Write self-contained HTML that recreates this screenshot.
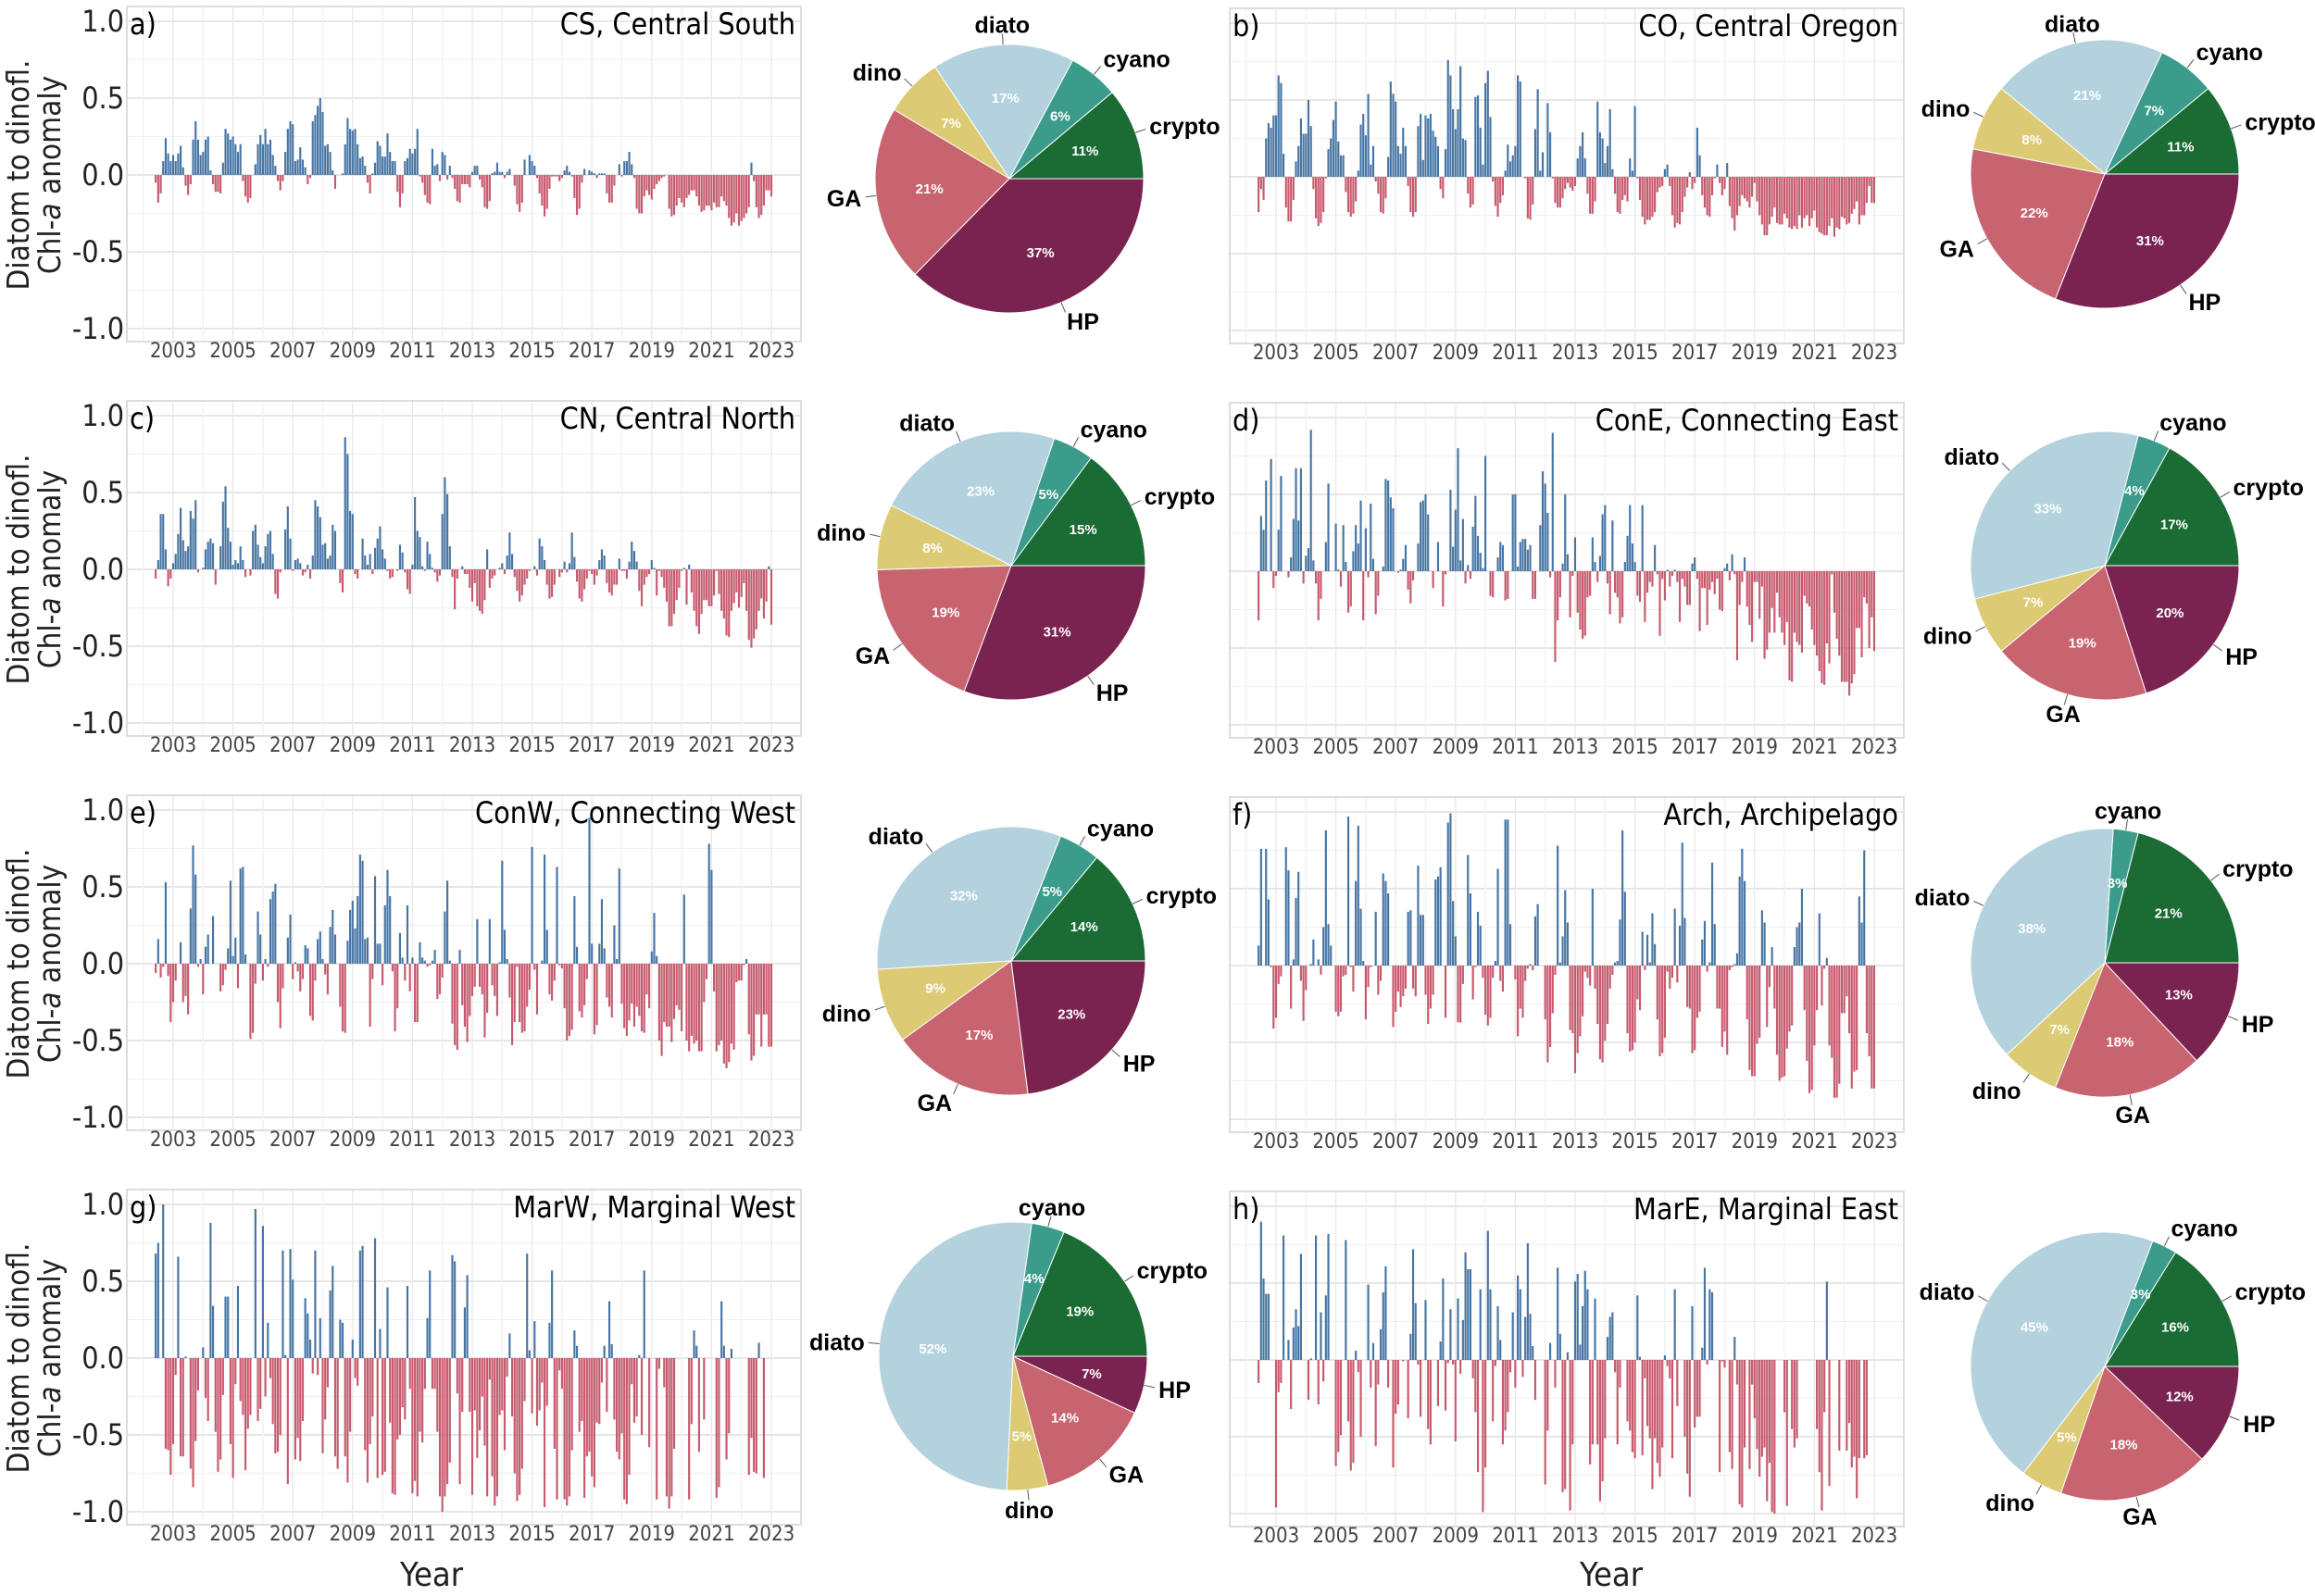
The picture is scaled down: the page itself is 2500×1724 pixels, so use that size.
<!DOCTYPE html>
<html><head><meta charset="utf-8"><title>Diatom to dinoflagellate Chl-a anomaly</title>
<style>
html,body{margin:0;padding:0;background:#fff;}
svg{display:block;}
text{font-family:"DejaVu Sans Condensed","DejaVu Sans","Liberation Sans",sans-serif;}
.pl{font-family:"Liberation Sans",sans-serif;}
</style></head>
<body>
<svg id="fig" width="2500" height="1724" viewBox="0 0 2500 1724" xmlns="http://www.w3.org/2000/svg"></svg>
<script>
// ---------- data ----------
const yearTicks = [2003,2005,2007,2009,2011,2013,2015,2017,2019,2021,2023];
const yTickValues = [1.0,0.5,0.0,-0.5,-1.0];
const yTickLabels = ["1.0","0.5","0.0","-0.5","-1.0"];
const pieCategories = ["crypto","cyano","diato","dino","GA","HP"];

const csValues = [-.05,-.18,-.12,.09,.24,.14,.09,
.13,.09,.14,.19,.05,-.07,-.13,-.06,.23,.35,.23,.13,
.15,.23,.25,.03,-.06,-.11,-.11,-.12,.08,.3,.27,.23,
.25,.2,.15,.2,-.04,-.14,-.18,-.15,0,.07,.2,.26,
.2,.3,.2,.23,.13,.06,-.04,-.1,-.04,.15,.3,.35,
.33,.09,.1,.18,.1,.05,-.06,-.02,.35,.39,.45,.5,
.41,.19,.2,.15,.03,-.09,0,0,.01,.2,.37,.3,
.29,.3,.2,.11,.12,.06,-.05,-.12,.01,.08,.22,.19,
.12,.12,.27,.15,.09,.09,-.11,-.21,-.12,.09,.11,.17,
.14,.17,.3,-.01,-.05,-.13,-.18,-.19,.17,.06,.07,-.04,
.15,.13,-.03,.06,-.02,-.09,-.17,-.18,-.06,-.06,-.06,-.08,
.02,.06,.06,-.03,-.08,-.21,-.22,-.17,.01,.02,.08,.02,
.02,-.02,.02,.04,0,-.07,-.19,-.24,-.18,.1,0,.13,
.09,.06,-.02,-.12,-.2,-.27,-.22,-.09,-.01,-.01,-.01,-.04,
-.02,.03,.06,.02,-.01,-.15,-.26,-.22,-.05,.04,0,.03,
.02,.01,-.02,.01,.01,.01,-.12,-.18,-.18,-.07,0,.07,
-.01,.09,.09,.15,.07,-.02,-.22,-.25,-.25,-.14,-.1,-.13,
-.16,-.09,-.06,-.04,-.02,-.01,0,-.22,-.27,-.26,-.2,-.15,
-.18,-.21,-.15,-.13,-.1,-.1,-.14,-.2,-.24,-.23,-.2,-.2,
-.23,-.18,-.21,-.21,-.14,-.17,-.2,-.28,-.33,-.31,-.25,-.33,
-.3,-.28,-.25,-.21,.08,-.04,-.21,-.28,-.26,-.2,-.1,-.1,
-.14];

const coValues = [-.23,-.08,-.15,.25,.35,.32,.4,
.4,.66,.61,.15,-.2,-.29,-.29,-.15,.1,.2,.38,.28,
.28,.5,.33,-.08,-.27,-.32,-.3,-.23,-.01,.18,.25,.37,
.49,.23,.14,.14,-.1,-.23,-.26,-.24,-.16,.04,.34,.41,
.27,.54,.08,.2,-.03,-.11,-.23,-.24,-.14,.13,.62,.54,
.49,.2,.15,.32,.2,-.06,-.23,-.26,-.23,.33,.41,.11,
.4,.38,.41,.3,.26,.2,-.08,-.14,.18,.76,.66,.44,
.31,.44,.72,.25,.24,-.11,-.2,-.18,.52,.53,.32,.08,
.61,.69,.39,-.03,-.19,-.26,-.17,-.12,.04,.21,.1,.14,
.2,.66,.62,0,-.01,-.27,-.28,-.18,.31,.57,.04,.16,
0,.48,.29,-.01,-.17,-.2,-.2,-.14,-.08,-.04,-.07,-.09,
-.06,.12,.2,.29,.12,-.11,-.24,-.24,-.16,.49,.29,.25,
.09,.2,.44,.05,-.11,-.23,-.24,-.15,-.12,-.16,.12,.04,
.46,-.01,-.15,-.26,-.31,-.28,-.28,-.26,-.23,-.1,-.07,-.06,
.05,.08,-.06,-.25,-.33,-.3,-.31,-.23,-.13,-.07,.03,-.08,
-.04,.32,.14,-.12,-.2,-.25,-.26,-.12,-.01,.08,-.04,-.12,
-.08,.09,-.19,-.27,-.35,-.25,-.19,-.12,-.14,-.16,-.2,-.13,
-.04,-.16,-.25,-.31,-.38,-.38,-.31,-.26,-.2,-.3,-.31,-.31,
-.24,-.27,-.33,-.34,-.32,-.34,-.25,-.33,-.27,-.25,-.32,-.27,
-.22,-.33,-.36,-.37,-.38,-.38,-.32,-.27,-.39,-.33,-.34,-.26,
-.27,-.31,-.3,-.24,-.21,-.16,-.31,-.25,-.25,-.17,-.06,-.17,
-.17];

const cnValues = [-.06,.06,.36,.36,.13,-.11,-.06,
.04,.1,.23,.4,.19,.12,.15,.38,.33,.45,-.02,0,
.01,.13,.18,.2,.17,-.1,0,.15,.44,.54,.27,.18,
.03,.06,.04,.15,.06,-.05,0,-.04,.25,.29,.16,.08,
.04,.15,.23,.25,.1,-.16,-.19,-.02,0,.26,.41,.2,
-.01,.06,.07,.04,-.04,-.02,.03,-.06,.09,.45,.41,.34,
.16,.17,.07,.09,.29,.25,0,-.09,-.15,.86,.75,.38,
.36,-.03,-.06,0,.2,.09,.03,.1,-.03,.14,.2,.28,
.13,.07,-.01,-.06,-.05,0,-.01,.16,.11,-.02,-.13,-.16,
.03,.47,.25,.21,.02,-.01,.18,.1,.01,-.02,-.08,-.04,
.36,.6,.49,.15,-.05,-.26,-.06,0,.02,-.03,-.03,-.12,
-.21,-.09,-.24,-.27,-.29,-.2,.13,-.12,-.06,-.04,0,.01,
.04,-.03,.09,.24,.1,-.05,-.14,-.21,-.17,-.1,-.06,-.01,
0,.02,-.04,.2,.15,.06,-.1,-.19,-.18,-.1,0,-.05,
-.02,.05,-.02,.04,.24,.08,-.08,-.19,-.21,-.13,-.06,-.01,
-.03,-.1,-.04,.06,.13,.09,-.09,-.15,-.17,-.1,-.1,.07,
-.01,-.01,-.06,.05,.18,.12,.05,-.14,-.24,-.1,-.05,-.03,
.06,.01,-.17,-.01,-.05,-.12,-.21,-.37,-.37,-.29,-.2,-.12,
-.01,.01,-.23,.03,-.15,-.27,-.37,-.42,-.29,-.2,-.2,-.24,
-.24,-.17,-.01,-.16,-.27,-.32,-.43,-.44,-.27,-.22,-.15,-.25,
-.18,-.09,-.27,-.46,-.51,-.45,-.39,-.27,-.19,-.32,-.21,.02,
-.36];

const coneValues = [-.32,.36,.27,.59,0,.73,-.11,
-.03,.27,.62,0,0,-.04,.09,.34,.67,.33,.67,-.08,
.1,.15,.92,.07,-.08,-.32,-.18,0,.19,.57,0,0,
.31,.01,-.1,.3,.06,-.27,-.23,.13,.3,.18,.46,-.32,
.28,-.04,.44,.08,-.28,-.16,0,.03,.6,.59,.48,.41,
0,-.01,.01,.08,.17,-.12,-.21,-.06,0,.18,.45,.46,
.5,.37,0,-.11,0,.19,0,-.23,-.02,0,.53,.16,
.4,.8,.07,.34,-.08,.04,-.05,.29,.49,.23,.12,.02,
.75,0,-.16,-.17,0,.09,.19,.17,-.19,-.18,0,.5,
.5,.03,.19,.21,.21,.14,.17,-.18,-.18,0,.3,.65,
.57,.38,-.04,.9,-.59,-.32,-.17,.05,.5,.11,-.3,-.03,
.22,-.27,-.38,-.44,-.42,-.17,-.16,.22,.06,-.07,.1,.37,
.43,-.08,-.28,.33,-.14,-.17,-.34,-.3,.06,.23,.43,.18,
.06,-.16,-.2,.43,-.33,-.14,-.07,-.1,.17,-.02,-.42,-.05,
-.19,.01,-.1,-.03,.01,-.07,-.33,-.05,-.1,-.22,-.22,.05,
.09,-.05,-.39,-.11,-.11,-.35,-.12,-.07,-.15,-.05,-.25,-.26,
.02,.05,-.06,.11,-.02,-.58,-.22,-.07,.09,-.23,-.35,-.46,
-.07,-.07,-.31,-.1,-.57,-.51,-.4,-.24,-.4,-.14,-.3,-.4,
-.48,-.33,-.71,-.72,-.4,-.46,-.48,-.53,-.16,-.21,-.23,-.38,
-.48,-.55,-.65,-.73,-.74,-.47,-.6,-.02,-.27,-.44,-.55,-.72,
-.72,-.72,-.81,-.73,-.67,-.37,-.37,-.56,-.17,-.21,-.5,-.3,
-.52];

const conwValues = [-.06,.16,-.09,-.02,.53,-.08,-.38,
-.25,-.11,0,.14,-.25,-.21,-.33,.36,.77,.58,-.02,.03,
-.2,.11,.19,0,.31,0,0,-.18,-.14,-.04,.1,.54,
.05,.17,-.16,.62,.63,.06,0,-.49,-.45,-.13,.34,.19,
-.11,.03,-.02,.42,.47,.52,-.25,-.42,-.16,0,.17,.32,
-.1,.01,-.05,-.18,-.1,.12,.1,-.34,-.37,-.11,.16,.21,
.03,-.07,-.2,.24,.35,.19,0,-.28,-.44,-.45,.15,.35,
.41,.23,.44,.71,.67,.16,.17,-.41,-.1,.57,.13,.13,
-.14,.38,.61,.44,-.05,-.44,-.29,.2,.04,-.11,.38,-.18,
.04,-.38,-.38,.14,.04,.02,-.02,-.01,.02,.09,-.23,-.2,
-.09,.34,.54,.02,-.39,-.53,-.56,.09,-.27,-.41,-.51,-.34,
-.21,-.15,.29,-.15,-.2,-.48,-.32,.29,-.14,-.21,-.34,.01,
.67,.22,.03,-.22,-.53,-.38,-.02,-.38,-.45,-.44,-.28,-.17,
.76,-.04,-.33,0,.02,.71,.22,-.2,-.24,-.11,.63,-.01,
-.03,-.29,-.5,-.47,-.43,.44,.11,-.31,-.35,-.27,-.1,.95,
.13,-.46,-.4,.13,.42,.1,-.22,-.28,-.35,.25,.03,.62,
-.26,-.42,-.47,-.37,-.26,-.41,-.28,-.34,-.44,-.45,-.2,-.29,
.08,.33,.05,-.5,-.6,-.38,-.41,-.41,-.51,-.36,-.27,-.3,
-.44,.45,-.5,-.57,-.47,-.52,-.5,-.57,-.57,-.25,-.1,.78,
.61,-.18,-.57,-.53,-.5,-.65,-.68,-.64,-.52,-.56,-.12,-.11,
-.11,-.01,.03,-.46,-.63,-.6,-.33,-.33,-.54,-.33,-.33,-.54,
-.54];

const archValues = [.13,.76,0,.76,.43,-.01,-.41,
-.34,-.12,-.07,0,.77,.62,-.28,.04,.44,.61,-.1,-.36,
-.16,0,.01,.17,0,.04,-.06,.25,.88,.27,.13,0,
-.3,-.33,-.3,-.07,-.06,.97,-.01,-.17,.55,.91,.37,.03,
-.35,-.14,-.01,0,.35,-.19,-.1,.6,.55,.47,0,-.4,
-.3,-.17,-.27,-.2,-.15,.35,.36,-.15,-.2,.65,.33,.33,
-.19,-.38,-.28,-.19,.56,.58,.64,0,-.34,.93,.99,.42,
.19,-.37,-.37,-.12,0,.72,.47,-.22,-.01,.35,.26,-.08,
-.32,-.39,-.34,-.08,.03,.63,-.1,-.17,.95,.95,.27,0,
-.09,-.46,-.28,-.34,-.1,-.02,.01,-.03,.32,.4,0,0,
-.35,-.63,-.53,-.31,-.06,.78,.02,.19,.49,.28,-.42,-.44,
-.7,-.57,-.46,-.33,-.04,-.08,-.13,.5,-.15,-.38,-.61,-.63,
-.49,-.38,-.15,-.06,.02,.03,.3,.88,.48,-.44,-.56,-.55,
-.5,-.22,-.29,.22,-.03,.2,.02,.34,.14,-.35,-.59,-.57,
-.47,-.04,-.15,-.08,.37,-.11,.26,.8,.31,-.27,-.28,-.57,
-.55,-.34,-.3,.17,.29,-.04,.02,.67,.27,-.28,-.28,-.53,
-.43,-.58,-.03,-.01,.01,.08,.58,.76,.55,-.35,-.68,-.72,
-.72,-.51,-.47,.36,.28,-.4,-.14,.12,-.28,-.58,-.75,-.73,
-.72,-.54,-.43,-.39,.12,.25,.28,.5,-.29,-.62,-.83,-.81,
-.52,-.29,.34,-.26,-.02,.05,-.52,-.6,-.86,-.86,-.77,-.31,
-.31,-.2,-.44,-.8,-.69,-.68,.45,.28,.75,-.44,-.59,-.8,
-.8];

const marwValues = [.68,.75,0,1.0,-.59,-.6,-.76,
-.56,-.11,.66,-.64,-.64,.01,0,-.72,-.84,-.54,-.21,0,
.07,-.26,-.41,.88,.34,-.48,-.74,-.66,-.24,.4,.4,-.56,
-.78,-.17,.47,-.28,-.37,-.73,-.46,-.37,0,.97,-.41,-.33,
.86,-.25,.23,-.13,-.43,-.62,-.61,-.5,.7,.02,-.82,.71,
.51,-.66,-.52,-.67,-.41,.39,.29,.12,-.1,.7,-.11,.26,
-.62,-.4,-.19,.44,.6,-.64,-.72,.25,.23,-.64,-.81,-.48,
.12,-.13,-.18,.7,.73,-.6,-.81,-.56,-.38,.78,-.78,.19,
-.76,-.74,.46,-.42,-.88,-.89,-.53,-.5,-.32,-.4,.47,-.2,
-.88,-.8,-.9,-.48,-.55,-.2,.26,.57,-.2,-.2,-.48,-.9,
-1.0,-.9,-.82,-.68,.67,.63,-.23,-.82,-.35,.33,.54,-.35,
-.89,-.34,-.65,-.47,-.25,-.57,-.9,-.14,-.77,-.96,-.9,-.37,
-.34,-.6,-.12,.16,-.38,-.75,-.93,-.89,-.72,-.28,.68,.05,
-.36,.24,-.44,-.34,-.16,-.97,-.31,.23,.57,-.59,-.92,-.08,
-.2,-.92,-.96,-.9,-.6,.18,.08,-.48,-.41,-.91,-.64,-.61,
-.77,-.84,-.42,-.43,-.16,.08,-.35,.37,.09,-.4,-.61,-.66,
-.49,-.92,-.95,-.76,-.17,-.42,-.38,.02,-.5,.57,0,-.58,
0,0,-.92,-.07,0,-.19,-.9,-.98,-.9,-.59,0,0,
0,0,0,-.92,-.43,.18,.08,-.61,0,-.4,0,0,
0,0,-.91,-.84,.37,.08,-.66,-.49,.06,0,0,0,
0,0,0,-.76,-.52,-.74,-.75,.1,0,-.78,0,0,
0];

const mareValues = [-.15,.9,.53,.43,.43,0,0,
-.96,-.21,-.15,.81,0,.13,-.32,.21,.33,.22,.69,0,
0,-.26,.01,0,.81,-.29,.31,-.14,.42,.82,0,0,
-.69,-.6,-.49,0,.78,-.4,-.72,-.67,.06,-.08,-.5,0,
0,.49,-.18,.11,-.56,-.16,.2,.44,.61,-.18,0,-.7,
-.35,-.29,0,-.01,0,-.38,.17,.72,.37,-.03,-.37,0,
.39,-.45,-.55,0,0,-.3,.12,.53,-.33,-.02,.33,-.03,
-.53,.4,-.09,.26,.7,.59,.59,-.12,-.34,-.73,.46,-.99,
-.7,.84,.46,-.4,-.04,.35,.13,-.55,-.46,-.34,-.08,.31,
-.18,.55,.46,-.11,.28,.76,.3,.09,-.26,0,0,0,
-.81,-.46,.11,0,-.18,.6,.17,-.86,-.84,.05,-.98,-.55,
.51,.56,.1,.35,.58,.46,-.68,-.55,.4,-.55,-.92,-.79,
-.51,.15,.28,.31,-.08,-.55,-.18,0,0,-.4,-.46,-.6,
-.64,.42,.02,-.62,-.12,-.43,-.51,-.84,-.51,-.67,-.76,-.57,
.03,-.04,-.12,-.64,.46,-.3,0,0,-.5,-.74,-.89,.35,
-.44,-.37,-.37,.08,.6,-.03,.46,.44,0,0,-.73,-.01,
-.05,0,-.6,-.71,.15,-.16,-.94,-.96,-.57,0,-.71,-.16,
-.38,-.58,-.76,-.63,-.57,-.92,-.67,-.99,-1.0,0,0,0,
-.34,-.95,0,-.45,-.57,-.51,0,0,0,0,0,0,
0,-.45,-.73,-.98,-.34,.51,-.82,0,0,0,-.59,0,
0,-.59,-.41,-.7,-.63,-.9,-.64,0,-.64,-.62,0,0,
0];

const csShares = [11,6,17,7,21,37];
const coShares = [11,7,21,8,22,31];
const cnShares = [15,5,23,8,19,31];
const coneShares = [17,4,33,7,19,20];
const conwShares = [14,5,32,9,17,23];
const archShares = [21,3,38,7,18,13];
const marwShares = [19,4,52,5,14,7];
const mareShares = [16,3,45,5,18,12];

// ---------- styling / layout ----------
const NS = "http://www.w3.org/2000/svg";
const svg = document.getElementById("fig");
const sliceColors = ["#1a6b34","#3b9c8c","#b3d2de","#dccb74","#c8646f","#7b2350"];
const UNIT = 166;
const ROWZERO = [189, 615, 1041, 1467];
const COLS = [
  {x0:137, x1:865, y2003:187, y2023:833, dz:0},
  {x0:1328, x1:2056, y2003:1378, y2023:2024, dz:2}
];
const PIES = [[1090,193],[2273,188],[1092,611],[2273,611],[1092,1038],[2273,1040],[1094,1465],[2273,1476]];
const PR = 145;

const panels = [
 {id:"cs", tag:"a)", title:"CS, Central South", vals:csValues, shares:csShares, col:0,row:0},
 {id:"co", tag:"b)", title:"CO, Central Oregon", vals:coValues, shares:coShares, col:1,row:0},
 {id:"cn", tag:"c)", title:"CN, Central North", vals:cnValues, shares:cnShares, col:0,row:1},
 {id:"cone", tag:"d)", title:"ConE, Connecting East", vals:coneValues, shares:coneShares, col:1,row:1},
 {id:"conw", tag:"e)", title:"ConW, Connecting West", vals:conwValues, shares:conwShares, col:0,row:2},
 {id:"arch", tag:"f)", title:"Arch, Archipelago", vals:archValues, shares:archShares, col:1,row:2},
 {id:"marw", tag:"g)", title:"MarW, Marginal West", vals:marwValues, shares:marwShares, col:0,row:3},
 {id:"mare", tag:"h)", title:"MarE, Marginal East", vals:mareValues, shares:mareShares, col:1,row:3}
];

function mk(tag, attrs, parent){
  const e = document.createElementNS(NS, tag);
  for (const k in attrs) e.setAttribute(k, attrs[k]);
  (parent||svg).appendChild(e);
  return e;
}

panels.forEach((p, pi) => {
  const C = COLS[p.col];
  const zero = ROWZERO[p.row] + C.dz;
  const yS = v => zero - v*UNIT;
  const xS = t => C.y2003 + (t-2003)*(C.y2023-C.y2003)/20;
  const g = mk("g", {});
  
  
  const top = zero - 182, bot = zero + 180;
  for (let v=-1; v<=1.001; v+=0.25) {
    const major = Math.abs(v*2 - Math.round(v*2)) < 1e-6;
    const gl = mk("line", {x1:C.x0, x2:C.x1, y1:yS(v), y2:yS(v), stroke: major?"#e6e6e6":"#f1f1f1", "stroke-width": major?2:1.2}, g);
    
    
  }
  for (let yr=2002; yr<=2024; yr++) {
    const x = xS(yr);
    if (x < C.x0 || x > C.x1) continue;
    const vl = mk("line", {x1:x, x2:x, y1:top, y2:bot, stroke: (yr%2===1)?"#e8e8e8":"#f1f1f1", "stroke-width":1.3}, g);
    
    
  }
  const fr = mk("rect", {x:C.x0, y:top, width:C.x1-C.x0, height:bot-top, fill:"none", stroke:"#dddddd", "stroke-width":2}, g);
  
  
  const mw = (C.y2023-C.y2003)/240;
  p.vals.forEach((v, i) => {
    if (v === 0) return;
    const t = 2002 + 5/12 + i/12;
    const x = xS(t);
    const y0 = yS(0), y1 = yS(v);
    const b = mk("rect", {x:(x - mw*0.4).toFixed(2), y:Math.min(y0,y1).toFixed(2), width:(mw*0.8).toFixed(2), height:Math.abs(y1-y0).toFixed(2), fill: v>0?"#4775a3":"#c65a6d"}, g);
    
    
  });
  yearTicks.forEach(yr => {
    const t = mk("text", {x:xS(yr), y:zero+197, "text-anchor":"middle", "font-size":22, fill:"#444"}, g);
    t.textContent = yr;
    
    
  });
  if (p.col === 0) {
    yTickValues.forEach((v, k) => {
      const t = mk("text", {x:C.x0-3, y:yS(v)+11, "text-anchor":"end", "font-size":32, fill:"#222"}, g);
      t.textContent = yTickLabels[k];
      
      
    });
  }
  const tg = mk("text", {x:C.x0+3, y:zero-152, "font-size":32, fill:"#000"}, g);
  tg.textContent = p.tag;
  
  
  const tt = mk("text", {x:C.x1-6, y:zero-152, "text-anchor":"end", "font-size":32, fill:"#000"}, g);
  tt.textContent = p.title;
  
  

  const [cx, cy] = PIES[pi];
  const pg = mk("g", {});
  
  
  const total = p.shares.reduce((a,b)=>a+b,0);
  let a0 = 0;
  const mids = [];
  p.shares.forEach((s, k) => {
    const a1 = a0 + s/total*2*Math.PI;
    const large = (a1-a0) > Math.PI ? 1 : 0;
    const d = `M${cx},${cy} L${cx+PR*Math.cos(a0)},${cy-PR*Math.sin(a0)} A${PR},${PR} 0 ${large} 0 ${cx+PR*Math.cos(a1)},${cy-PR*Math.sin(a1)} Z`;
    const sl = mk("path", {d:d, fill:sliceColors[k], stroke:"#fff", "stroke-width":1}, pg);
    
    
    mids.push((a0+a1)/2);
    a0 = a1;
  });
  p.shares.forEach((s, k) => {
    const m = mids[k];
    const c = Math.cos(m), sn = Math.sin(m);
    const pt = mk("text", {x:cx+0.6*PR*c, y:cy-0.6*PR*sn+5, "text-anchor":"middle", "font-size":15, "font-weight":"bold", fill:"#fff", class:"pl"}, pg);
    pt.textContent = s + "%";
    
    
    const ld = mk("line", {x1:cx+1.0*PR*c, y1:cy-1.0*PR*sn, x2:cx+1.08*PR*c, y2:cy-1.08*PR*sn, stroke:"#555", "stroke-width":1}, pg);
    
    
    const anchor = Math.abs(c) < 0.3 ? "middle" : (c > 0 ? "start" : "end");
    const lt = mk("text", {x:cx+1.11*PR*c, y:cy-1.15*PR*sn+9, "text-anchor":anchor, "font-size":25, "font-weight":"bold", fill:"#000", class:"pl"}, pg);
    lt.textContent = pieCategories[k];
    
    
  });
});

ROWZERO.forEach(z => {
  const t1 = mk("text", {x:0, y:0, transform:`translate(31,${z}) rotate(-90)`, "text-anchor":"middle", "font-size":33, fill:"#222"});
  t1.textContent = "Diatom to dinofl.";
  
  
  const t2 = mk("text", {x:0, y:0, transform:`translate(65,${z}) rotate(-90)`, "text-anchor":"middle", "font-size":33, fill:"#222"});
  
  
  const s1 = document.createElementNS(NS, "tspan"); s1.textContent = "Chl-";
  const s2 = document.createElementNS(NS, "tspan"); s2.textContent = "a"; s2.setAttribute("font-style","italic");
  const s3 = document.createElementNS(NS, "tspan"); s3.textContent = " anomaly";
  t2.appendChild(s1); t2.appendChild(s2); t2.appendChild(s3);
});
[466, 1740].forEach(x => {
  const t = mk("text", {x:x, y:1713, "text-anchor":"middle", "font-size":36, fill:"#222"});
  t.textContent = "Year";
  
  
});
</script>
</body></html>
